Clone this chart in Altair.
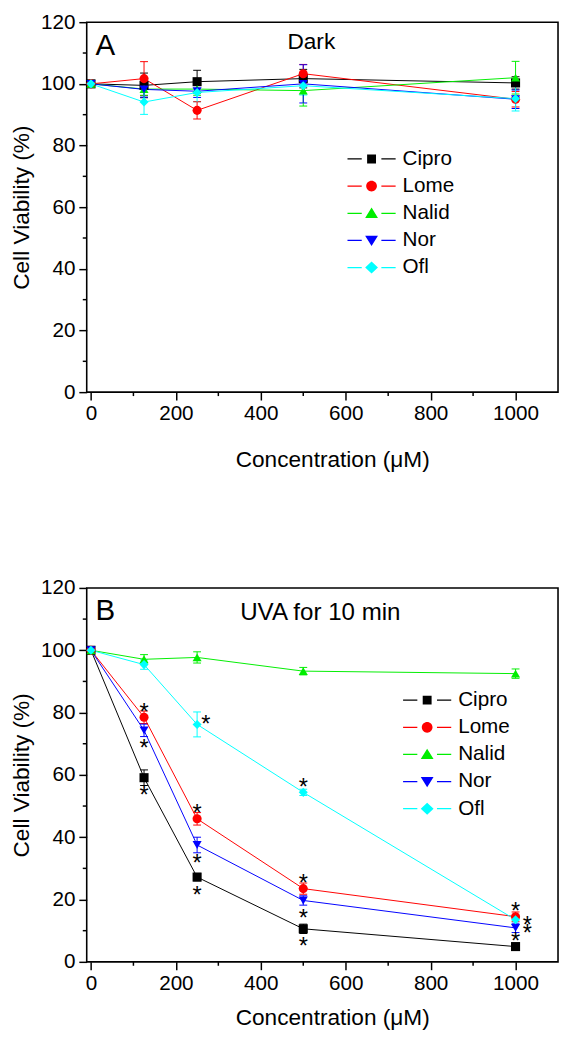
import altair as alt
import pandas as pd

# ---------------- data ----------------
conc = [0, 125, 250, 500, 1000]
drugs = ["Cipro", "Lome", "Nalid", "Nor", "Ofl"]
colors = ["#000000", "#ff0000", "#00ee00", "#0000ff", "#00ffff"]
shapes = ["square", "circle", "triangle-up", "triangle-down", "diamond"]

# Panel A: Dark
dark_cipro = [100, 99.5, 100.7, 101.7, 100.3]
dark_cipro_err = [1, 4, 3.7, 3, 2]
dark_lome = [100, 101.7, 91.4, 103.3, 95.0]
dark_lome_err = [1, 5.5, 2.8, 3, 2.5]
dark_nalid = [100, 98.3, 98.3, 97.8, 102.0]
dark_nalid_err = [1, 2, 2, 5, 5.3]
dark_nor = [100, 98.2, 97.6, 100.0, 95.0]
dark_nor_err = [1, 2.5, 2, 6.2, 3]
dark_ofl = [100, 94.1, 97.2, 99.4, 95.2]
dark_ofl_err = [1, 4, 3, 3, 4]

# Panel B: UVA for 10 min
uva_cipro = [100, 59.1, 27.2, 10.6, 4.9]
uva_cipro_err = [0.5, 2.5, 1.2, 1.5, 1]
uva_lome = [100, 78.5, 45.9, 23.5, 14.5]
uva_lome_err = [0.5, 2, 2, 1.8, 1.5]
uva_nalid = [100, 97.1, 97.7, 93.3, 92.5]
uva_nalid_err = [0.5, 1.5, 1.8, 1.2, 1.5]
uva_nor = [100, 74.3, 37.5, 19.7, 10.9]
uva_nor_err = [0.5, 2.0, 2.5, 1.5, 1.5]
uva_ofl = [100, 95.4, 76.2, 54.4, 13.5]
uva_ofl_err = [0.5, 1.5, 4, 1, 1.5]

# significance asterisks (panel B)
star_drug = ["Lome", "Nor", "Cipro", "Ofl", "Lome", "Nor", "Cipro",
             "Ofl", "Lome", "Nor", "Cipro", "Lome", "Ofl", "Nor", "Cipro"]
star_conc = [125, 125, 125, 250, 250, 250, 250,
             500, 500, 500, 500, 1000, 1000, 1000, 1000]
star_place = ["above", "below", "below", "upright", "above", "below", "below",
              "above", "above", "below", "below", "above", "right", "right", "above"]

x_ticks = [0, 200, 400, 600, 800, 1000]
x_minor = [100, 300, 500, 700, 900]
y_ticks = [0, 20, 40, 60, 80, 100, 120]
y_minor = [10, 30, 50, 70, 90, 110]

FONT = "Liberation Sans"


def long_df(series, errs):
    rows = []
    for d, vals, es in zip(drugs, series, errs):
        for c, v, e in zip(conc, vals, es):
            rows.append({"drug": d, "conc": c, "value": v, "lo": v - e, "hi": v + e})
    return pd.DataFrame(rows)


dark_df = long_df([dark_cipro, dark_lome, dark_nalid, dark_nor, dark_ofl],
                  [dark_cipro_err, dark_lome_err, dark_nalid_err, dark_nor_err, dark_ofl_err])
uva_df = long_df([uva_cipro, uva_lome, uva_nalid, uva_nor, uva_ofl],
                 [uva_cipro_err, uva_lome_err, uva_nalid_err, uva_nor_err, uva_ofl_err])

lookup = {(r.drug, r.conc): r.value for r in uva_df.itertuples()}
stars_df = pd.DataFrame({
    "drug": star_drug, "conc": star_conc, "place": star_place,
    "value": [lookup[(d, c)] for d, c in zip(star_drug, star_conc)],
})

# legend symbols: line - marker - line (unit = sqrt(size)/2 px)
LINE = "M-2.33,-0.06H-0.95V0.06H-2.33Z M0.95,-0.06H2.33V0.06H0.95Z "
legend_paths = [
    LINE + "M-0.43,-0.43H0.43V0.43H-0.43Z",
    LINE + "M-0.52,0A0.52,0.52,0,1,0,0.52,0A0.52,0.52,0,1,0,-0.52,0Z",
    LINE + "M0,-0.55L0.62,0.45H-0.62Z",
    LINE + "M0,0.55L0.62,-0.45H-0.62Z",
    LINE + "M0,-0.58L0.62,0L0,0.58L-0.62,0Z",
]

# center offsets (px) of asterisks relative to point
star_offsets = {"above": (0, -11), "below": (0, 12.5), "right": (12, 0), "upright": (9, -6)}


def panel(df, stars, letter, cond, cond_x, cond_y, cond_size, leg_x, leg_y, height, title_pad):
    xs = alt.Scale(domain=[-10, 1100], nice=False, zero=False)
    ys = alt.Scale(domain=[0, 120], nice=False, zero=False)
    common = dict(grid=False, domain=False, labelFont=FONT, labelFontSize=21,
                  titleFont=FONT, titleFontSize=23, titleFontWeight="normal",
                  labelColor="black", titleColor="black", tickColor="black", tickWidth=1.5)
    xaxis = alt.Axis(values=x_ticks, title="Concentration (μM)", tickSize=8,
                     labelPadding=3, titlePadding=title_pad, titleX=249.5, format="d", **common)
    yaxis = alt.Axis(values=y_ticks, title="Cell Viability (%)", tickSize=8,
                     labelPadding=4, titlePadding=7, **common)

    def X(f):
        return alt.X(f, type="quantitative", scale=xs, axis=xaxis)

    def Y(f):
        return alt.Y(f, type="quantitative", scale=ys, axis=yaxis)

    cscale = alt.Scale(domain=drugs, range=colors)

    minor_x = alt.Chart(pd.DataFrame({"m": x_minor})).mark_rule(
        color="black", strokeWidth=1.5).encode(
        x=X("m"), y=alt.value(height), y2=alt.value(height + 4))
    minor_y = alt.Chart(pd.DataFrame({"m": y_minor})).mark_rule(
        color="black", strokeWidth=1.5).encode(
        y=Y("m"), x=alt.value(0), x2=alt.value(-4))

    base = alt.Chart(df)
    err = base.mark_errorbar(ticks=True, size=8, thickness=1, opacity=1).encode(
        x=X("conc"), y=Y("lo"), y2=alt.Y2("hi"),
        color=alt.Color("drug:N", scale=cscale, legend=None))
    lines = base.mark_line(strokeWidth=1).encode(
        x=X("conc"), y=Y("value"),
        color=alt.Color("drug:N", scale=cscale, legend=None),
        order=alt.Order("conc:Q"))
    points = base.mark_point(filled=True, size=85, opacity=1).encode(
        x=X("conc"), y=Y("value"),
        color=alt.Color("drug:N", scale=cscale, legend=None),
        shape=alt.Shape("drug:N", scale=alt.Scale(domain=drugs, range=shapes), legend=None))

    leg = dict(orient="none", legendX=leg_x, legendY=leg_y, title=None,
               labelFont=FONT, labelFontSize=21, labelColor="black", labelLimit=0,
               symbolSize=441, labelOffset=21, rowPadding=5.6, padding=0,
               symbolStrokeWidth=0, symbolOpacity=1)
    carrier = base.transform_filter("false").mark_point(filled=True, size=441, opacity=1).encode(
        x=X("conc"), y=Y("value"),
        color=alt.Color("drug:N", scale=cscale, legend=alt.Legend(**leg)),
        shape=alt.Shape("drug:N", scale=alt.Scale(domain=drugs, range=legend_paths),
                        legend=alt.Legend(**leg)))

    layers = [minor_x, minor_y, err, lines, points]

    if stars is not None:
        for place, (ddx, ddy) in star_offsets.items():
            layers.append(
                alt.Chart(stars).transform_filter(alt.datum.place == place).mark_text(
                    text="*", font=FONT, fontSize=24, color="black", align="center",
                    baseline="middle", dx=ddx, dy=ddy + 6.6).encode(
                    x=X("conc"), y=Y("value")))

    letter_t = alt.Chart(pd.DataFrame({"t": [letter]})).mark_text(
        font=FONT, fontSize=30, align="left", baseline="alphabetic", color="black").encode(
        text="t:N", x=alt.value(9), y=alt.value(33))
    cond_t = alt.Chart(pd.DataFrame({"t": [cond]})).mark_text(
        font=FONT, fontSize=cond_size, align="left", baseline="alphabetic", color="black").encode(
        text="t:N", x=alt.value(cond_x), y=alt.value(cond_y))
    layers += [letter_t, cond_t, carrier]

    return alt.layer(*layers).resolve_scale(
        color="independent", shape="independent").properties(width=479, height=height)


panel_a = panel(dark_df, None, "A", "Dark", 204, 27, 23, 279, 128.5, 376, 26)
panel_b = panel(uva_df, stars_df, "B", "UVA for 10 min", 156, 33, 24.5, 335.5, 103.5, 380, 14)

chart = alt.vconcat(panel_a, panel_b, spacing=105).resolve_scale(
    color="independent", shape="independent").properties(
    padding={"top": -6, "left": 2, "right": 0, "bottom": 0}).configure(
    font=FONT,
    view=alt.ViewConfig(stroke="black", strokeWidth=1.6),
    axis=alt.AxisConfig(grid=False, domain=False))

chart.save("out.html", embed_options={"renderer": "svg", "actions": False})
